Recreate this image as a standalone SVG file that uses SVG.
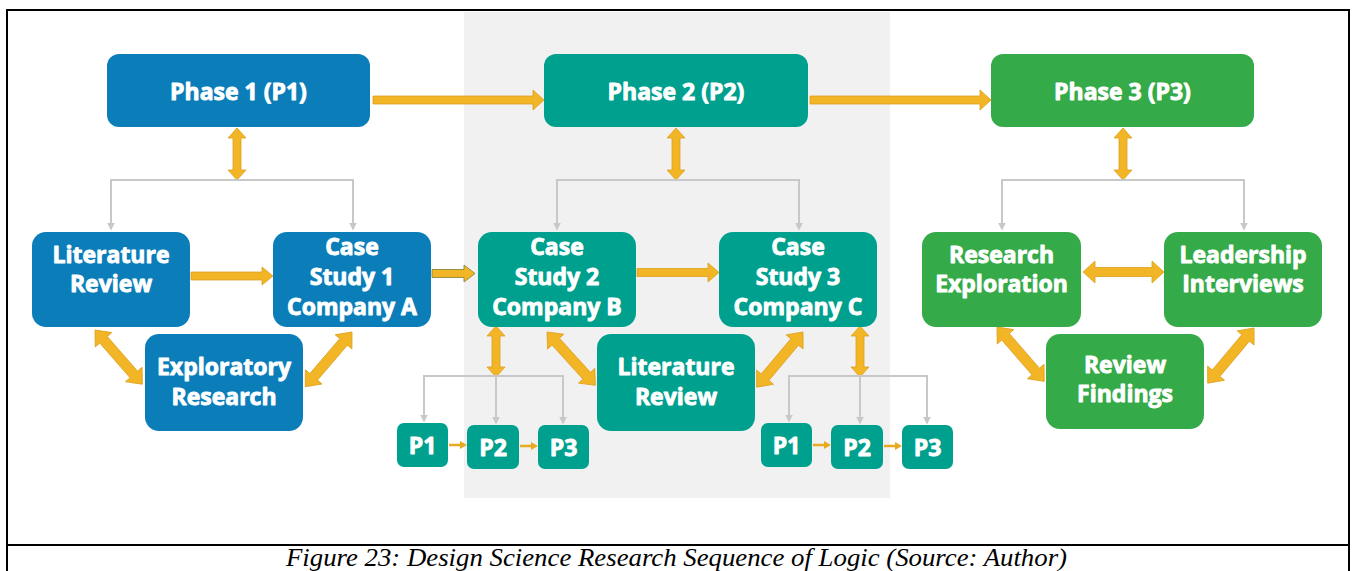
<svg xmlns="http://www.w3.org/2000/svg" width="1352" height="571" viewBox="0 0 1352 571">
  <defs>
    <style>
      .blue { fill: #0B7EBA; }
      .teal { fill: #00A08F; }
      .green { fill: #35AA48; }
      .lbl { font-family: "Open Sans", "Liberation Sans", sans-serif; font-weight: 700; font-size: 23px; fill: #ffffff; stroke: #ffffff; stroke-width: 0.9; stroke-linejoin: round; text-anchor: middle; }
      .arw { fill: #F2B526; stroke: #DDA01E; stroke-width: 0.8; stroke-linejoin: miter; }
      .arw2 { fill: #F2B526; stroke: #8C8A3A; stroke-width: 0.9; }
      .thin { stroke: #E8AA20; stroke-width: 2.5; fill: none; }
      .gray { stroke: #C8C8C8; stroke-width: 2; fill: none; marker-end: url(#gtip); }
      .frame { stroke: #000000; stroke-width: 2; fill: none; }
      .cap { font-family: "Liberation Serif", "Times New Roman", serif; font-style: italic; font-size: 25px; fill: #000000; text-anchor: middle; }
    </style>
    <marker id="gtip" viewBox="0 0 10 10" refX="8" refY="5" markerWidth="4" markerHeight="4" orient="auto" markerUnits="strokeWidth">
      <path d="M0,0 L10,5 L0,10 Z" fill="#C8C8C8"/>
    </marker>
    <!-- two-headed arrow, 72 long, drawn along +x -->
    <path id="dbl" d="M0,0 L13,-11 L13,-5 L59,-5 L59,-11 L72,0 L59,11 L59,5 L13,5 L13,11 Z"/>
  </defs>

  <rect width="1352" height="571" fill="#ffffff"/>

  <!-- centre band behind phase 2 -->
  <rect x="464" y="12" width="426" height="486" fill="#F1F1F1"/>

  <!-- frame and caption rule -->
  <path class="frame" d="M7,571 V10 H1349 V571"/>
  <line class="frame" x1="7" y1="545" x2="1349" y2="545"/>

  <g id="connectors">
    <!-- phase to phase -->
    <path class="arw" d="M373,96 L533,96 L533,90 L544,100 L533,110 L533,104 L373,104 Z"/>
    <path class="arw" d="M810,96 L980,96 L980,90 L991,100 L980,110 L980,104 L810,104 Z"/>

    <!-- phase to branch, two-headed -->
    <path class="arw" d="M237,128 L246,138 L241,138 L241,170 L246,170 L237,180 L228,170 L233,170 L233,138 L228,138 Z"/>
    <path class="arw" d="M676,128 L685,138 L680,138 L680,170 L685,170 L676,180 L667,170 L672,170 L672,138 L667,138 Z"/>
    <path class="arw" d="M1123,128 L1132,138 L1127,138 L1127,170 L1132,170 L1123,180 L1114,170 L1119,170 L1119,138 L1114,138 Z"/>

    <!-- gray branches -->
    <path class="gray" d="M237,180 H111 V229"/>
    <path class="gray" d="M237,180 H353 V229"/>
    <path class="gray" d="M676,180 H557 V229"/>
    <path class="gray" d="M676,180 H799 V229"/>
    <path class="gray" d="M1123,180 H1002 V229"/>
    <path class="gray" d="M1123,180 H1244 V229"/>

    <!-- row links -->
    <path class="arw" d="M191,272 L262,272 L262,267 L273,276 L262,285 L262,280 L191,280 Z"/>
    <path class="arw2" d="M432,269.5 L464,269.5 L464,265 L475,273.5 L464,282 L464,277.5 L432,277.5 Z"/>
    <path class="arw" d="M637,268.5 L708,268.5 L708,263 L719,272.5 L708,282 L708,276.5 L637,276.5 Z"/>
    <path class="arw" d="M1083,272 L1095,261 L1095,267.5 L1152,267.5 L1152,261 L1164,272 L1152,283 L1152,276.5 L1095,276.5 L1095,283 Z"/>

    <!-- diagonal two-headed links -->
    <use href="#dbl" class="arw" transform="translate(95,330) rotate(48.9)"/>
    <use href="#dbl" class="arw" transform="translate(352,332) rotate(130.5)"/>
    <use href="#dbl" class="arw" transform="translate(547,332) rotate(47.8)"/>
    <use href="#dbl" class="arw" transform="translate(803,332) rotate(130)"/>
    <use href="#dbl" class="arw" transform="translate(997,327) rotate(49)"/>
    <use href="#dbl" class="arw" transform="translate(1254,328) rotate(130)"/>

    <!-- case study to sub-phase, two-headed -->
    <path class="arw" d="M496,326 L505,336 L500,336 L500,367 L505,367 L496,377 L487,367 L492,367 L492,336 L487,336 Z"/>
    <path class="arw" d="M860,326 L869,336 L864,336 L864,367 L869,367 L860,377 L851,367 L856,367 L856,336 L851,336 Z"/>

    <!-- sub-phase gray branches -->
    <path class="gray" d="M496,376 H424 V421"/>
    <path class="gray" d="M496,376 V423"/>
    <path class="gray" d="M496,376 H563 V423"/>
    <path class="gray" d="M860,376 H789 V421"/>
    <path class="gray" d="M860,376 V423"/>
    <path class="gray" d="M860,376 H927 V423"/>

    <!-- sub-phase sequence -->
    <line class="thin" x1="449" y1="445" x2="461" y2="445"/>
    <path d="M460,441 L467,445 L460,449 Z" fill="#E8AA20"/>
    <line class="thin" x1="520" y1="446" x2="532" y2="446"/>
    <path d="M531,442 L538,446 L531,450 Z" fill="#E8AA20"/>
    <line class="thin" x1="813" y1="445" x2="825" y2="445"/>
    <path d="M824,441 L831,445 L824,449 Z" fill="#E8AA20"/>
    <line class="thin" x1="884" y1="446" x2="896" y2="446"/>
    <path d="M895,442 L902,446 L895,450 Z" fill="#E8AA20"/>
  </g>

  <!-- phase 1 -->
  <g id="phase1">
    <rect class="blue" x="107" y="54" width="263" height="73" rx="12"/>
    <text class="lbl" x="238.5" y="100">Phase 1 (P1)</text>
  </g>
  <g id="p1-literature-review">
    <rect class="blue" x="32" y="232" width="158" height="95" rx="14"/>
    <text class="lbl" x="111" y="263">Literature</text>
    <text class="lbl" x="111" y="292">Review</text>
  </g>
  <g id="case-study-1">
    <rect class="blue" x="273" y="232" width="158" height="95" rx="14"/>
    <text class="lbl" x="352" y="255">Case</text>
    <text class="lbl" x="352" y="285">Study 1</text>
    <text class="lbl" x="352" y="315">Company A</text>
  </g>
  <g id="exploratory-research">
    <rect class="blue" x="145" y="334" width="158" height="97" rx="14"/>
    <text class="lbl" x="224" y="375">Exploratory</text>
    <text class="lbl" x="224" y="405">Research</text>
  </g>

  <!-- phase 2 -->
  <g id="phase2">
    <rect class="teal" x="544" y="54" width="264" height="73" rx="12"/>
    <text class="lbl" x="676" y="100">Phase 2 (P2)</text>
  </g>
  <g id="case-study-2">
    <rect class="teal" x="478" y="232" width="158" height="95" rx="14"/>
    <text class="lbl" x="557" y="255">Case</text>
    <text class="lbl" x="557" y="285">Study 2</text>
    <text class="lbl" x="557" y="315">Company B</text>
  </g>
  <g id="case-study-3">
    <rect class="teal" x="719" y="232" width="158" height="95" rx="14"/>
    <text class="lbl" x="798" y="255">Case</text>
    <text class="lbl" x="798" y="285">Study 3</text>
    <text class="lbl" x="798" y="315">Company C</text>
  </g>
  <g id="p2-literature-review">
    <rect class="teal" x="597" y="334" width="158" height="97" rx="14"/>
    <text class="lbl" x="676" y="375">Literature</text>
    <text class="lbl" x="676" y="405">Review</text>
  </g>
  <g id="cs2-p1"><rect class="teal" x="397" y="423" width="51" height="44" rx="7"/><text class="lbl" x="422.5" y="454">P1</text></g>
  <g id="cs2-p2"><rect class="teal" x="467" y="425" width="52" height="44" rx="7"/><text class="lbl" x="493" y="456">P2</text></g>
  <g id="cs2-p3"><rect class="teal" x="538" y="425" width="51" height="44" rx="7"/><text class="lbl" x="563.5" y="456">P3</text></g>
  <g id="cs3-p1"><rect class="teal" x="761" y="423" width="51" height="44" rx="7"/><text class="lbl" x="786.5" y="454">P1</text></g>
  <g id="cs3-p2"><rect class="teal" x="831" y="425" width="52" height="44" rx="7"/><text class="lbl" x="857" y="456">P2</text></g>
  <g id="cs3-p3"><rect class="teal" x="902" y="425" width="51" height="44" rx="7"/><text class="lbl" x="927.5" y="456">P3</text></g>

  <!-- phase 3 -->
  <g id="phase3">
    <rect class="green" x="991" y="54" width="263" height="73" rx="12"/>
    <text class="lbl" x="1122.5" y="100">Phase 3 (P3)</text>
  </g>
  <g id="research-exploration">
    <rect class="green" x="922" y="232" width="159" height="95" rx="14"/>
    <text class="lbl" x="1001.5" y="263">Research</text>
    <text class="lbl" x="1001.5" y="292">Exploration</text>
  </g>
  <g id="leadership-interviews">
    <rect class="green" x="1164" y="232" width="158" height="95" rx="14"/>
    <text class="lbl" x="1243" y="263">Leadership</text>
    <text class="lbl" x="1243" y="292">Interviews</text>
  </g>
  <g id="review-findings">
    <rect class="green" x="1046" y="334" width="158" height="95" rx="14"/>
    <text class="lbl" x="1125" y="373">Review</text>
    <text class="lbl" x="1125" y="402">Findings</text>
  </g>

  <text class="cap" x="676.5" y="566" textLength="781" lengthAdjust="spacingAndGlyphs">Figure 23: Design Science Research Sequence of Logic (Source: Author)</text>
</svg>
